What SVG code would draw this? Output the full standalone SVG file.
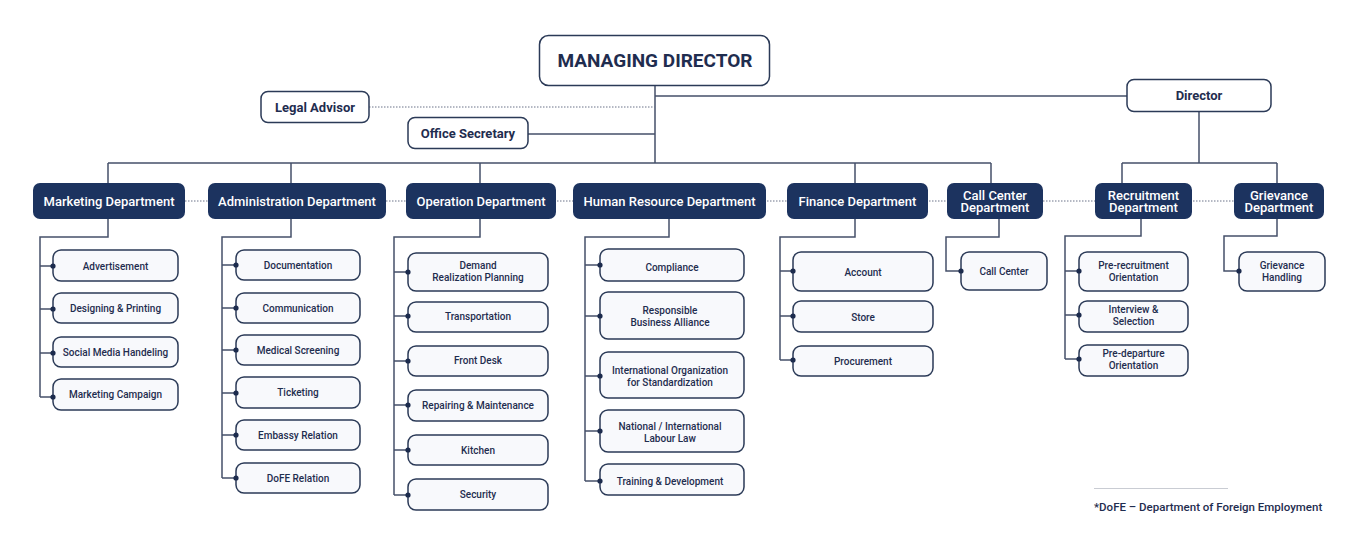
<svg xmlns="http://www.w3.org/2000/svg" width="1358" height="543" viewBox="0 0 1358 543">
<style>
.bg{fill:#ffffff}
.ln{fill:none;stroke:#45506a;stroke-width:1.5}
.dt{fill:none;stroke:#6b7388;stroke-width:1;stroke-dasharray:1.5 1.5}
.top{fill:#ffffff;stroke:#2b3a57;stroke-width:1.5}
.dept{fill:#1c335f}
.ch{fill:#f8f9fc;stroke:#2b3a57;stroke-width:1.5}
.dot{fill:#1c2b4d}
.tt{font-family:Roboto,"Liberation Sans",sans-serif;fill:#1f2d4f;text-anchor:middle}
.md{font-size:19px;font-weight:700}
.tb{font-size:13px;font-weight:700}
.dl{font-family:Roboto,"Liberation Sans",sans-serif;fill:#ffffff;text-anchor:middle;font-size:13px;font-weight:500}
.cl{font-size:10px;font-weight:500}
.fn{font-family:Roboto,"Liberation Sans",sans-serif;fill:#1f2d4f;font-size:11.5px;font-weight:500}
</style>
<rect class="bg" x="0" y="0" width="1358" height="543"/>
<g id="connectors">
<path class="ln" d="M655 85V163M108 163H991M108 163V183M291 163V183M480 163V183M855 163V183M991 163V183"/>
<path class="ln" d="M655 96H1127M528 134H655"/>
<path class="dt" d="M369 107H655"/>
<path class="ln" d="M1199 111V163M1122 163H1277M1122 163V183M1277 163V183"/>
<path class="dt" d="M185 201H1234"/>
<path class="ln" d="M108 219V237H40V397M40 266H53M40 309H53M40 353H53M40 397H53"/>
<path class="ln" d="M291 219V237H222V478M222 265H236M222 308H236M222 350H236M222 393H236M222 435H236M222 478H236"/>
<path class="ln" d="M480 219V237H394V495M394 272H408M394 316H408M394 361H408M394 405H408M394 450H408M394 495H408"/>
<path class="ln" d="M669 219V237H585V481M585 265H600M585 316H600M585 376H600M585 431H600M585 481H600"/>
<path class="ln" d="M855 219V237H780V360M780 271H793M780 316H793M780 360H793"/>
<path class="ln" d="M999 219V237H946V271H961"/>
<path class="ln" d="M1141 219V236H1065V359M1065 271H1079M1065 315H1079M1065 359H1079"/>
<path class="ln" d="M1277 219V236H1224V271H1239"/>
<line x1="1094" y1="488.5" x2="1228" y2="488.5" stroke="#c9ccd3" stroke-width="1"/>
</g>
<g id="managing-director"><rect class="top" x="539.5" y="35.5" width="230" height="50" rx="9"/><text class="tt md" x="655" y="67">MANAGING DIRECTOR</text></g>
<g id="legal-advisor"><rect class="top" x="261" y="91.5" width="108" height="31" rx="7"/><text class="tt tb" x="315" y="111.5">Legal Advisor</text></g>
<g id="office-secretary"><rect class="top" x="408" y="117.5" width="120" height="31" rx="7"/><text class="tt tb" x="468" y="137.5">Office Secretary</text></g>
<g id="director"><rect class="top" x="1127" y="79.5" width="144" height="32" rx="7"/><text class="tt tb" x="1199" y="100">Director</text></g>

<g id="marketing-department"><rect class="dept" x="33" y="183" width="152" height="36" rx="7"/><text class="dl" x="109" y="205.5">Marketing Department</text></g>
<g id="administration-department"><rect class="dept" x="208" y="183" width="178" height="36" rx="7"/><text class="dl" x="297" y="205.5">Administration Department</text></g>
<g id="operation-department"><rect class="dept" x="406" y="183" width="150" height="36" rx="7"/><text class="dl" x="481" y="205.5">Operation Department</text></g>
<g id="hr-department"><rect class="dept" x="573" y="183" width="193" height="36" rx="7"/><text class="dl" x="669.5" y="205.5">Human Resource Department</text></g>
<g id="finance-department"><rect class="dept" x="787" y="183" width="141" height="36" rx="7"/><text class="dl" x="857.5" y="205.5">Finance Department</text></g>
<g id="call-center-department"><rect class="dept" x="947" y="183" width="96" height="36" rx="7"/><text class="dl" x="995" y="199.5">Call Center</text><text class="dl" x="995" y="212">Department</text></g>
<g id="recruitment-department"><rect class="dept" x="1095" y="183" width="97" height="36" rx="7"/><text class="dl" x="1143.5" y="199.5">Recruitment</text><text class="dl" x="1143.5" y="212">Department</text></g>
<g id="grievance-department"><rect class="dept" x="1234" y="183" width="90" height="36" rx="7"/><text class="dl" x="1279" y="199.5">Grievance</text><text class="dl" x="1279" y="212">Department</text></g>

<g id="advertisement"><rect class="ch" x="53" y="250" width="125" height="31" rx="8"/><circle class="dot" cx="53" cy="266" r="2.6"/><text class="tt cl" x="115.5" y="269.5">Advertisement</text></g>
<g id="designing-printing"><rect class="ch" x="53" y="293" width="125" height="30" rx="8"/><circle class="dot" cx="53" cy="309" r="2.6"/><text class="tt cl" x="115.5" y="312">Designing &amp; Printing</text></g>
<g id="social-media"><rect class="ch" x="53" y="337" width="125" height="30" rx="8"/><circle class="dot" cx="53" cy="353" r="2.6"/><text class="tt cl" x="115.5" y="356">Social Media Handeling</text></g>
<g id="marketing-campaign"><rect class="ch" x="53" y="379" width="125" height="31" rx="8"/><circle class="dot" cx="53" cy="397" r="2.6"/><text class="tt cl" x="115.5" y="398">Marketing Campaign</text></g>

<g id="documentation"><rect class="ch" x="236" y="250" width="124" height="30" rx="8"/><circle class="dot" cx="236" cy="265" r="2.6"/><text class="tt cl" x="298" y="268.5">Documentation</text></g>
<g id="communication"><rect class="ch" x="236" y="293" width="124" height="30" rx="8"/><circle class="dot" cx="236" cy="308" r="2.6"/><text class="tt cl" x="298" y="311.5">Communication</text></g>
<g id="medical-screening"><rect class="ch" x="236" y="335" width="124" height="30" rx="8"/><circle class="dot" cx="236" cy="350" r="2.6"/><text class="tt cl" x="298" y="353.5">Medical Screening</text></g>
<g id="ticketing"><rect class="ch" x="236" y="377" width="124" height="31" rx="8"/><circle class="dot" cx="236" cy="393" r="2.6"/><text class="tt cl" x="298" y="396">Ticketing</text></g>
<g id="embassy-relation"><rect class="ch" x="236" y="420" width="124" height="30" rx="8"/><circle class="dot" cx="236" cy="435" r="2.6"/><text class="tt cl" x="298" y="438.5">Embassy Relation</text></g>
<g id="dofe-relation"><rect class="ch" x="236" y="463" width="124" height="30" rx="8"/><circle class="dot" cx="236" cy="478" r="2.6"/><text class="tt cl" x="298" y="481.5">DoFE Relation</text></g>

<g id="demand-planning"><rect class="ch" x="408" y="253" width="140" height="38" rx="8"/><circle class="dot" cx="408" cy="272" r="2.6"/><text class="tt cl" x="478" y="269">Demand</text><text class="tt cl" x="478" y="281">Realization Planning</text></g>
<g id="transportation"><rect class="ch" x="408" y="302" width="140" height="30" rx="8"/><circle class="dot" cx="408" cy="316" r="2.6"/><text class="tt cl" x="478" y="320">Transportation</text></g>
<g id="front-desk"><rect class="ch" x="408" y="346" width="140" height="30" rx="8"/><circle class="dot" cx="408" cy="361" r="2.6"/><text class="tt cl" x="478" y="364">Front Desk</text></g>
<g id="repairing-maintenance"><rect class="ch" x="408" y="390" width="140" height="31" rx="8"/><circle class="dot" cx="408" cy="405" r="2.6"/><text class="tt cl" x="478" y="409">Repairing &amp; Maintenance</text></g>
<g id="kitchen"><rect class="ch" x="408" y="435" width="140" height="30" rx="8"/><circle class="dot" cx="408" cy="450" r="2.6"/><text class="tt cl" x="478" y="453.5">Kitchen</text></g>
<g id="security"><rect class="ch" x="408" y="479" width="140" height="31" rx="8"/><circle class="dot" cx="408" cy="495" r="2.6"/><text class="tt cl" x="478" y="498">Security</text></g>

<g id="compliance"><rect class="ch" x="600" y="249" width="144" height="32" rx="8"/><circle class="dot" cx="600" cy="265" r="2.6"/><text class="tt cl" x="672" y="270.5">Compliance</text></g>
<g id="rba"><rect class="ch" x="600" y="292" width="144" height="47" rx="8"/><circle class="dot" cx="600" cy="316" r="2.6"/><text class="tt cl" x="670" y="314">Responsible</text><text class="tt cl" x="670" y="326">Business Alliance</text></g>
<g id="iso"><rect class="ch" x="600" y="352" width="144" height="46" rx="8"/><circle class="dot" cx="600" cy="376" r="2.6"/><text class="tt cl" x="670" y="374">International Organization</text><text class="tt cl" x="670" y="386">for Standardization</text></g>
<g id="labour-law"><rect class="ch" x="600" y="410" width="144" height="42" rx="8"/><circle class="dot" cx="600" cy="431" r="2.6"/><text class="tt cl" x="670" y="430">National / International</text><text class="tt cl" x="670" y="442">Labour Law</text></g>
<g id="training-development"><rect class="ch" x="600" y="464" width="144" height="31" rx="8"/><circle class="dot" cx="600" cy="481" r="2.6"/><text class="tt cl" x="670" y="484.5">Training &amp; Development</text></g>

<g id="account"><rect class="ch" x="793" y="252" width="140" height="39" rx="8"/><circle class="dot" cx="793" cy="271" r="2.6"/><text class="tt cl" x="863" y="275.5">Account</text></g>
<g id="store"><rect class="ch" x="793" y="301" width="140" height="31" rx="8"/><circle class="dot" cx="793" cy="316" r="2.6"/><text class="tt cl" x="863" y="320.5">Store</text></g>
<g id="procurement"><rect class="ch" x="793" y="346" width="140" height="30" rx="8"/><circle class="dot" cx="793" cy="360" r="2.6"/><text class="tt cl" x="863" y="365">Procurement</text></g>

<g id="call-center"><rect class="ch" x="961" y="252" width="86" height="38" rx="8"/><circle class="dot" cx="961" cy="271" r="2.6"/><text class="tt cl" x="1004" y="275">Call Center</text></g>

<g id="pre-recruitment"><rect class="ch" x="1079" y="252" width="109" height="39" rx="8"/><circle class="dot" cx="1079" cy="271" r="2.6"/><text class="tt cl" x="1133.5" y="269">Pre-recruitment</text><text class="tt cl" x="1133.5" y="280.5">Orientation</text></g>
<g id="interview-selection"><rect class="ch" x="1079" y="301" width="109" height="31" rx="8"/><circle class="dot" cx="1079" cy="315" r="2.6"/><text class="tt cl" x="1133.5" y="313">Interview &amp;</text><text class="tt cl" x="1133.5" y="324.5">Selection</text></g>
<g id="pre-departure"><rect class="ch" x="1079" y="345" width="109" height="31" rx="8"/><circle class="dot" cx="1079" cy="359" r="2.6"/><text class="tt cl" x="1133.5" y="357">Pre-departure</text><text class="tt cl" x="1133.5" y="368.5">Orientation</text></g>

<g id="grievance-handling"><rect class="ch" x="1239" y="252" width="86" height="39" rx="8"/><circle class="dot" cx="1239" cy="271" r="2.6"/><text class="tt cl" x="1282" y="269">Grievance</text><text class="tt cl" x="1282" y="280.5">Handling</text></g>

<g id="footnote"><text class="fn" x="1094" y="511">*DoFE – Department of Foreign Employment</text></g>
</svg>
